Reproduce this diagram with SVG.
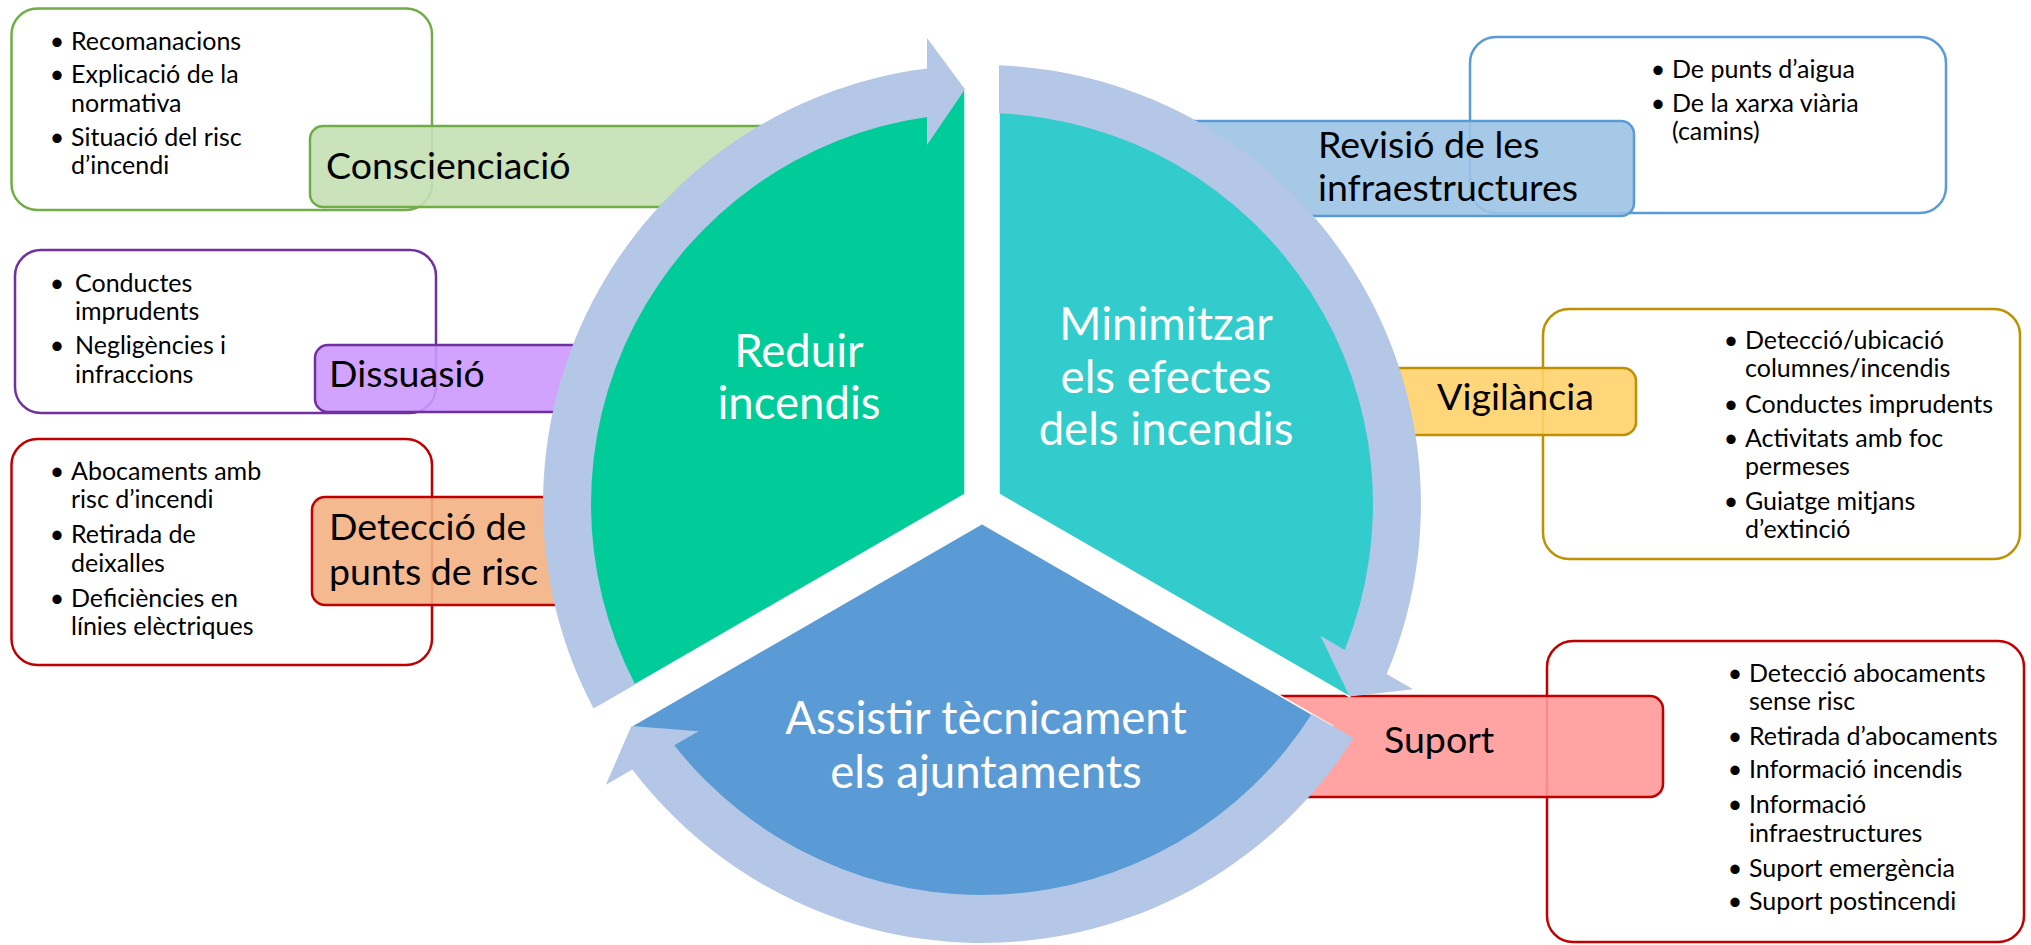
<svg xmlns="http://www.w3.org/2000/svg" width="2031" height="945" viewBox="0 0 2031 945">
<style>
.box{fill:#fff;stroke-width:2.5}
.lbl{stroke-width:2.5;fill-opacity:0.9}
.b{font-family:Lato,'Liberation Sans',sans-serif;font-size:25px;fill:#000}
.bul{text-anchor:middle}
.lt{font-family:Lato,'Liberation Sans',sans-serif;font-size:37.5px;fill:#000}
.ct{font-family:Lato,'Liberation Sans',sans-serif;font-size:45.5px;fill:#fff;text-anchor:middle}
.ring{fill:#B4C7E7}
.seg{stroke:#fff;stroke-width:1.5}
</style>
<rect width="2031" height="945" fill="#fff"/>

<g id="node-conscienciacio">
<rect class="box" x="11.5" y="8.5" width="420.5" height="201.5" rx="26" stroke="#70AD47"/>
<path class="lbl" d="M323,126 H850 V207 H323 A13,13 0 0 1 310,194 V139 A13,13 0 0 1 323,126 Z" fill="#C5E0B4" stroke="#70AD47"/>
<text class="lt" x="326" y="179">Conscienciació</text>
<text class="b bul" x="57" y="49.5">•</text><text class="b" x="71" y="49.5">Recomanacions</text>
<text class="b bul" x="57" y="83">•</text><text class="b" x="71" y="83">Explicació de la</text>
<text class="b" x="71" y="111.5">normativa</text>
<text class="b bul" x="57" y="145.5">•</text><text class="b" x="71" y="145.5">Situació del risc</text>
<text class="b" x="71" y="174">d’incendi</text>
</g>

<g id="node-dissuasio">
<rect class="box" x="15" y="250" width="421" height="163" rx="26" stroke="#7030A0"/>
<path class="lbl" d="M328,345 H850 V412 H328 A13,13 0 0 1 315,399 V358 A13,13 0 0 1 328,345 Z" fill="#CC99FF" stroke="#7030A0"/>
<text class="lt" x="329" y="387">Dissuasió</text>
<text class="b bul" x="57" y="292">•</text><text class="b" x="75" y="292">Conductes</text>
<text class="b" x="75" y="320">imprudents</text>
<text class="b bul" x="57" y="354">•</text><text class="b" x="75" y="354">Negligències i</text>
<text class="b" x="75" y="383">infraccions</text>
</g>

<g id="node-deteccio">
<rect class="box" x="11.5" y="439" width="420.5" height="226" rx="26" stroke="#C00000"/>
<path class="lbl" d="M325,497 H690 V605 H325 A13,13 0 0 1 312,592 V510 A13,13 0 0 1 325,497 Z" fill="#F4B183" stroke="#C00000"/>
<text class="lt" x="329" y="540">Detecció de</text>
<text class="lt" x="329" y="585">punts de risc</text>
<text class="b bul" x="57" y="480">•</text><text class="b" x="71" y="480">Abocaments amb</text>
<text class="b" x="71" y="508">risc d’incendi</text>
<text class="b bul" x="57" y="543">•</text><text class="b" x="71" y="543">Retirada de</text>
<text class="b" x="71" y="572">deixalles</text>
<text class="b bul" x="57" y="607">•</text><text class="b" x="71" y="607">Deficiències en</text>
<text class="b" x="71" y="635">línies elèctriques</text>
</g>

<g id="node-revisio">
<rect class="box" x="1470" y="37" width="476" height="176" rx="26" stroke="#5B9BD5"/>
<path class="lbl" d="M1100,121 H1621 A13,13 0 0 1 1634,134 V203 A13,13 0 0 1 1621,216 H1100 Z" fill="#9DC3E6" stroke="#5B9BD5"/>
<text class="lt" x="1318" y="158">Revisió de les</text>
<text class="lt" x="1318" y="201">infraestructures</text>
<text class="b bul" x="1658" y="78">•</text><text class="b" x="1672" y="78">De punts d’aigua</text>
<text class="b bul" x="1658" y="112">•</text><text class="b" x="1672" y="112">De la xarxa viària</text>
<text class="b" x="1672" y="140">(camins)</text>
</g>

<g id="node-vigilancia">
<rect class="box" x="1543" y="309" width="477" height="250" rx="26" stroke="#BF9000"/>
<path class="lbl" d="M1250,368 H1623 A13,13 0 0 1 1636,381 V422 A13,13 0 0 1 1623,435 H1250 Z" fill="#FFD36B" stroke="#BF9000"/>
<text class="lt" x="1437" y="410">Vigilància</text>
<text class="b bul" x="1731" y="349">•</text><text class="b" x="1745" y="349">Detecció/ubicació</text>
<text class="b" x="1745" y="377">columnes/incendis</text>
<text class="b bul" x="1731" y="413">•</text><text class="b" x="1745" y="413">Conductes imprudents</text>
<text class="b bul" x="1731" y="447">•</text><text class="b" x="1745" y="447">Activitats amb foc</text>
<text class="b" x="1745" y="475">permeses</text>
<text class="b bul" x="1731" y="510">•</text><text class="b" x="1745" y="510">Guiatge mitjans</text>
<text class="b" x="1745" y="538">d’extinció</text>
</g>

<g id="node-suport">
<rect class="box" x="1547" y="641" width="477" height="301" rx="26" stroke="#C00000"/>
<path class="lbl" d="M1200,696 H1650 A13,13 0 0 1 1663,709 V784 A13,13 0 0 1 1650,797 H1200 Z" fill="#FF9999" stroke="#C00000"/>
<text class="lt" x="1384" y="753">Suport</text>
<text class="b bul" x="1735" y="682">•</text><text class="b" x="1749" y="682">Detecció abocaments</text>
<text class="b" x="1749" y="710">sense risc</text>
<text class="b bul" x="1735" y="745">•</text><text class="b" x="1749" y="745">Retirada d’abocaments</text>
<text class="b bul" x="1735" y="778">•</text><text class="b" x="1749" y="778">Informació incendis</text>
<text class="b bul" x="1735" y="813">•</text><text class="b" x="1749" y="813">Informació</text>
<text class="b" x="1749" y="842">infraestructures</text>
<text class="b bul" x="1735" y="877">•</text><text class="b" x="1749" y="877">Suport emergència</text>
<text class="b bul" x="1735" y="910">•</text><text class="b" x="1749" y="910">Suport postincendi</text>
</g>

<g id="node-reduir">
<path class="seg" d="M965,494.2 L614.4,696.6 A415,415 0 0 1 965,89.35 Z" fill="#00CC99"/>
<text class="ct" x="799" y="367">Reduir</text>
<text class="ct" x="799" y="419">incendis</text>
</g>

<g id="node-minimitzar">
<path class="seg" d="M999,494.2 L999,89.35 A415,415 0 0 1 1349.6,696.6 Z" fill="#33CCCC"/>
<text class="ct" x="1166" y="340">Minimitzar</text>
<text class="ct" x="1166" y="393">els efectes</text>
<text class="ct" x="1166" y="445">dels incendis</text>
</g>

<g id="node-assistir">
<path class="seg" d="M982,523.6 L1332.6,726.05 A415,415 0 0 1 631.4,726.05 Z" fill="#5B9BD5"/>
<text class="ct" x="986" y="734">Assistir tècnicament</text>
<text class="ct" x="986" y="788">els ajuntaments</text>
</g>

<g id="connectors">
<path class="ring" d="M593.6,708.61 A439,439 0 0 1 927,68.5 L927,38 L965,89.35 L927,145 L927,116.9 A391,391 0 0 0 635.2,684.59 Z"/>
<path class="ring" d="M999,65.33 A439,439 0 0 1 1386.65,674.12 L1413.07,689.37 L1349.6,696.6 L1320.4,635.87 L1344.74,649.92 A391,391 0 0 0 999,113.37 Z"/>
<path class="ring" d="M1353.4,738.06 A439,439 0 0 1 632.35,769.38 L605.93,784.63 L631.4,726.05 L698.6,731.13 L674.26,745.18 A391,391 0 0 0 1311.8,714.04 Z"/>
</g>
</svg>
